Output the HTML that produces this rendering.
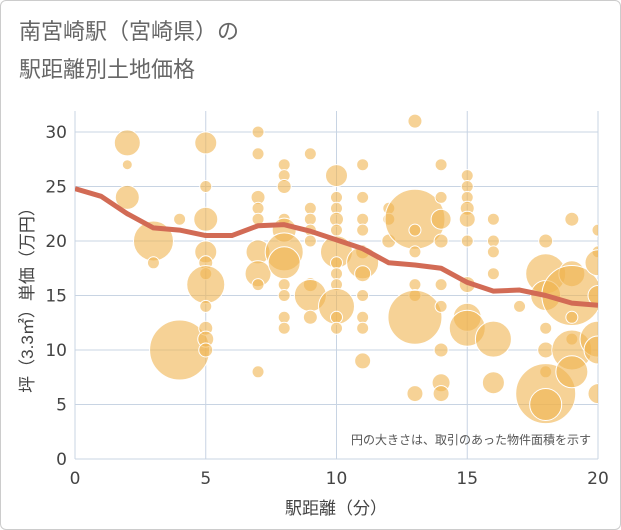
<!DOCTYPE html>
<html><head><meta charset="utf-8"><style>
body{margin:0;background:#fff;font-family:"Liberation Sans","Noto Sans CJK JP",sans-serif}
#wrap{position:relative;width:619px;height:528px;border:1px solid #ccc;border-radius:6px;overflow:hidden}
</style></head><body>
<div id="wrap">
<svg id="chart" width="619" height="528">
<text x="18" y="38" font-size="22" fill="#666">南宮崎駅（宮崎県）の</text>
<text x="18" y="76" font-size="22" fill="#666">駅距離別土地価格</text>
<g id="grid"></g>
<defs><clipPath id="clip"><rect x="74" y="110" width="523" height="348"/></clipPath></defs>
<g id="bubbles" clip-path="url(#clip)"></g>
<g id="line" clip-path="url(#clip)"></g>
<g id="axes"></g>
<text x="590" y="443" font-size="12" fill="#555" text-anchor="end">円の大きさは、取引のあった物件面積を示す</text>
<text x="335" y="513" font-size="17" fill="#444" text-anchor="middle">駅距離（分）</text>
<text transform="translate(32,295) rotate(-90)" font-size="17" fill="#444" text-anchor="middle">坪（3.3㎡）単価（万円）</text>
</svg></div>
<script>
const xTicks=[0,5,10,15,20];
const yTicks=[0,5,10,15,20,25,30];
const bx=[2,2,2,3,3,4,4,5,5,5,5,5,5,5,5,5,5,5,7,7,7,7,7,7,7,7,7,8,8,8,8,8,8,8,8,8,8,8,9,9,9,9,9,9,9,9,10,10,10,10,10,10,10,10,10,10,10,10,11,11,11,11,11,11,11,11,11,11,11,12,12,12,13,13,13,13,13,13,13,13,14,14,14,14,14,14,14,14,14,15,15,15,15,15,15,15,15,15,16,16,16,16,16,16,17,18,18,18,18,18,18,18,18,19,19,19,19,19,19,19,20,20,20,20,20,20,20];
const by=[29,27,24,20,18,10,22,29,25,22,19,18,17,16,14,12,11,10,30,28,24,23,22,19,17,16,8,27,26,25,22,21,19,18,16,15,13,12,28,23,22,21,20,16,15,13,26,24,23,22,21,19,18,17,16,14,13,12,27,24,22,21,19,18,17,15,13,12,9,23,22,20,31,22,21,19,16,15,13,6,27,24,22,20,16,14,10,7,6,26,25,24,23,22,20,16,13,12,22,20,19,17,11,7,14,20,17,15,12,10,8,6,5,22,17,15,13,11,10,8,21,19,18,15,11,10,6];
const br=[13,5,12,20,6,30,6,11,6,12,11,7,6,19,6,7,8,7,6,6,7,6,6,12,13,6,6,6,6,7,6,12,19,16,6,6,6,6,6,6,6,6,6,7,16,7,11,6,6,7,6,16,6,6,6,18,6,6,6,6,6,6,7,16,8,6,6,6,8,6,6,7,7,30,6,6,6,6,27,8,6,6,10,7,6,6,7,9,8,6,6,6,7,8,6,8,14,18,6,6,6,6,18,11,6,7,20,15,6,8,6,30,16,7,13,30,6,6,20,16,6,6,13,10,18,14,10];
const lineX=[0,1,2,3,4,5,6,7,8,9,10,11,12,13,14,15,16,17,18,19,20];
const lineY=[24.8,24.1,22.5,21.2,21,20.5,20.5,21.4,21.5,20.9,20.1,19.3,18,17.8,17.5,16.2,15.4,15.5,15,14.3,14.1];
const X=v=>74+v*(523/20), Y=v=>458-v*(327/30);
const NS="http://www.w3.org/2000/svg";
const grid=document.getElementById('grid'),axes=document.getElementById('axes');
xTicks.forEach(t=>{
 const l=document.createElementNS(NS,'line');
 l.setAttribute('x1',X(t));l.setAttribute('x2',X(t));l.setAttribute('y1',110);l.setAttribute('y2',458);
 l.setAttribute('stroke','#c8d4e3');l.setAttribute('stroke-width','1');
 
 
 grid.appendChild(l);
 const tx=document.createElementNS(NS,'text');
 tx.setAttribute('x',X(t));tx.setAttribute('y',483);tx.setAttribute('font-size','17');tx.setAttribute('fill','#444');tx.setAttribute('text-anchor','middle');tx.setAttribute('font-family','DejaVu Sans, sans-serif');
 tx.textContent=t;
 
 
 axes.appendChild(tx);
});
yTicks.forEach(t=>{
 const l=document.createElementNS(NS,'line');
 l.setAttribute('x1',74);l.setAttribute('x2',597);l.setAttribute('y1',Y(t));l.setAttribute('y2',Y(t));
 l.setAttribute('stroke','#c8d4e3');l.setAttribute('stroke-width','1');
 
 
 grid.appendChild(l);
 const tx=document.createElementNS(NS,'text');
 tx.setAttribute('x',66);tx.setAttribute('y',Y(t)+6);tx.setAttribute('font-size','17');tx.setAttribute('fill','#444');tx.setAttribute('text-anchor','end');tx.setAttribute('font-family','DejaVu Sans, sans-serif');
 tx.textContent=t;
 
 
 axes.appendChild(tx);
});
const bg=document.getElementById('bubbles');
bx.forEach((v,i)=>{
 const c=document.createElementNS(NS,'circle');
 c.setAttribute('cx',X(v));c.setAttribute('cy',Y(by[i]));c.setAttribute('r',br[i]);
 c.setAttribute('fill','rgba(240,180,80,0.6)');c.setAttribute('stroke','#fff');c.setAttribute('stroke-width','1');
 
 
 bg.appendChild(c);
});
const p=document.createElementNS(NS,'polyline');
p.setAttribute('points',lineX.map((v,i)=>X(v)+','+Y(lineY[i])).join(' '));
p.setAttribute('fill','none');p.setAttribute('stroke','#d26b55');p.setAttribute('stroke-width','5');p.setAttribute('stroke-linejoin','round');


document.getElementById('line').appendChild(p);
</script>
</body></html>
